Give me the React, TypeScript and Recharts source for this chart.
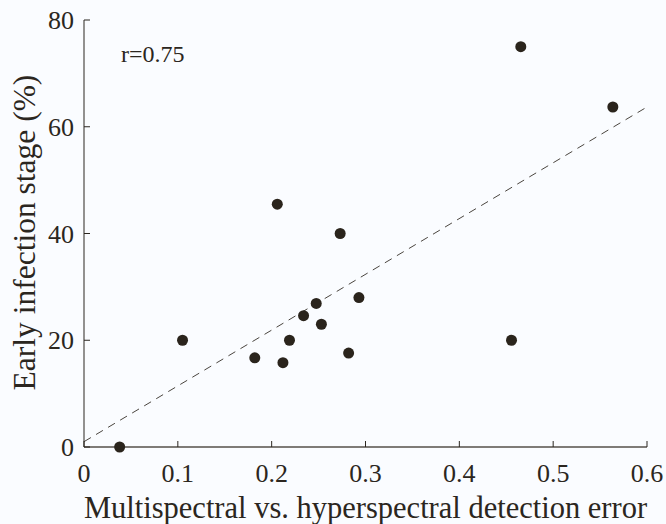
import React from "react";
import {
  ScatterChart, Scatter, XAxis, YAxis, ReferenceLine, Label,
} from "recharts";

const errorX = [0.038, 0.105, 0.182, 0.206, 0.212, 0.219, 0.234, 0.2475, 0.253, 0.273, 0.282, 0.293, 0.4556, 0.4655, 0.5636];
const earlyY = [0, 20, 16.7, 45.5, 15.8, 20, 24.6, 26.9, 23, 40, 17.6, 28, 20, 75, 63.7];

const xTicks = [0, 0.1, 0.2, 0.3, 0.4, 0.5, 0.6];
const yTicks = [0, 20, 40, 60, 80];

// regression line end points
const fitLine = [
  { x: 0, y: 1.0 },
  { x: 0.6, y: 63.7 },
];

const points = errorX.map((x, i) => ({ x, y: earlyY[i] }));

const FONT = "'Liberation Serif', 'Times New Roman', serif";
const INK = "#2b2620";
const BG = "#fafcff";

// tick marks inside the box, labels outside
const BottomTick = (props: any) => {
  const { x, y, payload } = props;
  return (
    <g>
      <line x1={x} y1={y} x2={x} y2={y - 6} stroke={INK} strokeWidth={1} />
      <text x={x} y={y + 35} textAnchor="middle" fontSize={26} fontFamily={FONT} fill={INK}>
        {payload.value}
      </text>
    </g>
  );
};

const TopTick = (props: any) => {
  const { x, y } = props;
  return <line x1={x} y1={y} x2={x} y2={y + 6} stroke={INK} strokeWidth={1} />;
};

const LeftTick = (props: any) => {
  const { x, y, payload } = props;
  return (
    <g>
      <line x1={x} y1={y} x2={x + 6} y2={y} stroke={INK} strokeWidth={1} />
      <text x={x - 10} y={y} dy="0.35em" textAnchor="end" fontSize={26} fontFamily={FONT} fill={INK}>
        {payload.value}
      </text>
    </g>
  );
};

const RightTick = (props: any) => {
  const { x, y } = props;
  return <line x1={x} y1={y} x2={x - 6} y2={y} stroke={INK} strokeWidth={1} />;
};

export default function App() {
  return (
    <div style={{ position: "fixed", left: 0, top: 0, width: 666, height: 524, background: BG }}>
      <ScatterChart
        width={666}
        height={524}
        margin={{ top: 20, right: 19, bottom: 0, left: 0 }}
        style={{ fontFamily: FONT }}
      >
        <XAxis
          xAxisId="b"
          type="number"
          dataKey="x"
          domain={[0, 0.6]}
          ticks={xTicks}
          height={77}
          tickSize={0}
          tickMargin={0}
          tick={<BottomTick />}
          axisLine={{ stroke: "#55504a", strokeWidth: 1.5 }}
        >
          <Label
            content={(p: any) => {
              const vb = p.viewBox;
              return (
                <text
                  x={vb.x + vb.width / 2}
                  y={vb.y + 71}
                  textAnchor="middle"
                  fontSize={30.5}
                  fontFamily={FONT}
                  fill={INK}
                >
                  Multispectral vs. hyperspectral detection error
                </text>
              );
            }}
          />
        </XAxis>
        <XAxis
          xAxisId="t"
          orientation="top"
          type="number"
          dataKey="x"
          domain={[0, 0.6]}
          ticks={xTicks}
          height={0}
          tickSize={0}
          tickMargin={0}
          tick={<TopTick />}
          axisLine={{ stroke: INK }}
        />
        <YAxis
          yAxisId="l"
          type="number"
          dataKey="y"
          domain={[0, 80]}
          ticks={yTicks}
          width={84}
          tickSize={0}
          tickMargin={0}
          tick={<LeftTick />}
          axisLine={{ stroke: INK }}
        >
          <Label
            content={(p: any) => {
              const vb = p.viewBox;
              const cx = 35;
              const cy = vb.y + vb.height / 2 - 1;
              return (
                <text
                  x={cx}
                  y={cy}
                  transform={`rotate(-90 ${cx} ${cy})`}
                  textAnchor="middle"
                  fontSize={31.5}
                  fontFamily={FONT}
                  fill={INK}
                >
                  Early infection stage (%)
                </text>
              );
            }}
          />
        </YAxis>
        <YAxis
          yAxisId="r"
          orientation="right"
          type="number"
          dataKey="y"
          domain={[0, 80]}
          ticks={yTicks}
          width={0}
          tickSize={0}
          tickMargin={0}
          tick={<RightTick />}
          axisLine={{ stroke: INK }}
        />
        <ReferenceLine
          xAxisId="b"
          yAxisId="l"
          segment={fitLine}
          stroke="#4a453f"
          strokeWidth={1}
          strokeDasharray="8 6"
        />
        <Scatter
          xAxisId="b"
          yAxisId="l"
          data={points}
          fill="#2a241c"
          shape={(p: any) => <circle cx={p.cx} cy={p.cy} r={5.5} fill="#2a241c" />}
          isAnimationActive={false}
        />
      </ScatterChart>
      <svg style={{ position: "absolute", left: 0, top: 0 }} width={666} height={524} pointerEvents="none">
        <text x={121} y={62} fontSize={24} fontFamily={FONT} fill={INK}>
          r=0.75
        </text>
      </svg>
    </div>
  );
}
